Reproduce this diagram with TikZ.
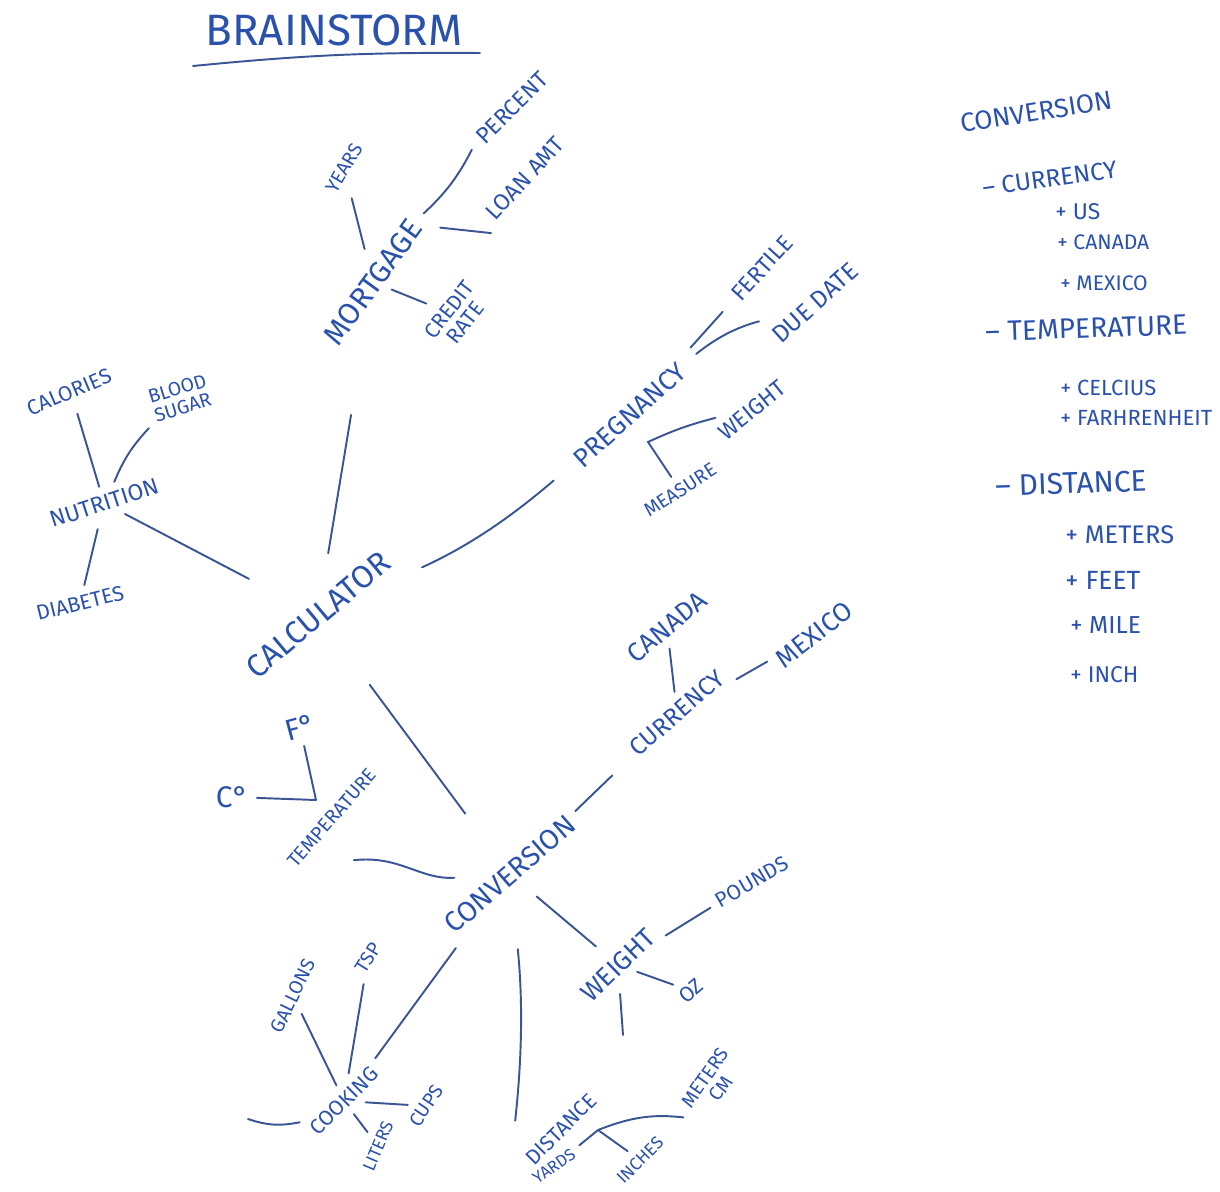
\documentclass[tikz,border=0pt]{standalone}
\usepackage{fontspec}
\setmainfont{Fira Sans}
\usepackage{tikz}
\usetikzlibrary{calc}
\definecolor{inkblue}{HTML}{2A52AC}
\definecolor{penline}{HTML}{3A5594}

\tikzset{
  hand/.style={text=inkblue, inner sep=1pt, outer sep=4pt, align=center,
    font=\fontsize{#1pt}{#1pt}\selectfont},
  ink/.style={draw=penline, line width=1.1pt, line cap=round},
  list/.style={text=inkblue, anchor=west, inner sep=0pt,
    font=\fontsize{#1pt}{#1pt}\selectfont}
}

\begin{document}
\begin{tikzpicture}[x=0.02cm, y=-0.02cm]
   \fill[white] (0,0) rectangle (1220,1191);
   \useasboundingbox (0,0) rectangle (1220,1191);

   % Title
   \node[hand=25] (title) at (334,30) {BRAINSTORM};
   \draw[ink] (193,66) to[bend left=3] (480,53);

   % Mortgage branch
   \node[hand=17, rotate=54] (mort) at (373,282) {MORTGAGE};
   \node[hand=11, rotate=60] (years) at (344,168) {YEARS};
   \node[hand=13, rotate=45] (perc) at (512,108) {PERCENT};
   \node[hand=13, rotate=47] (loan) at (525,178) {LOAN AMT};
   \node[hand=12, rotate=52] (credit) at (457,316) {CREDIT\\RATE};
   \draw[ink, shorten <=5pt, shorten >=5pt] (years) -- (mort);
   \draw[ink, shorten <=2pt, shorten >=2pt] (mort.east) to[bend right=10] (perc.west);
   \draw[ink, shorten <=2pt, shorten >=3pt] (mort.south east) -- (loan.south west);
   \draw[ink, shorten >=3pt] (mort) -- (credit);

   % Nutrition branch
   \node[hand=13, rotate=18] (nutr) at (104,503) {NUTRITION};
   \node[hand=12, rotate=23] (cal) at (69,392) {CALORIES};
   \node[hand=11, rotate=17] (blood) at (180,398) {BLOOD\\SUGAR};
   \node[hand=12, rotate=14] (diab) at (80,603) {DIABETES};
   \draw[ink, shorten <=4pt] (cal.south) -- (nutr);
   \draw[ink] (blood) to[bend right=10] (nutr);
   \draw[ink, shorten <=4pt] (nutr) -- (diab);

   % Calculator
   \node[hand=18, rotate=40] (calc) at (318,615) {CALCULATOR};
   \draw[ink, shorten <=52pt, shorten >=18pt] (mort) -- (calc);
   \draw[ink, shorten >=32pt] (nutr) -- (calc);

   % Pregnancy branch
   \node[hand=15, rotate=42] (preg) at (630,415) {PREGNANCY};
   \node[hand=13, rotate=48] (fert) at (762,268) {FERTILE};
   \node[hand=14, rotate=42] (due) at (815,303) {DUE DATE};
   \node[hand=13, rotate=39] (pwt) at (752,410) {WEIGHT};
   \node[hand=11, rotate=33] (meas) at (680,490) {MEASURE};
   \coordinate (pfork) at (648,442);
   \draw[ink, shorten <=22pt, shorten >=12pt] (calc) to[bend right=8] (preg);
   \draw[ink, shorten <=6pt, shorten >=6pt] (preg) -- (fert);
   \draw[ink, shorten <=6pt, shorten >=8pt] (preg) to[bend left=12] (due);
   \draw[ink] (meas) -- (pfork) to[bend left=5] (pwt);

   % Conversion
   \node[hand=16, rotate=41] (conv) at (510,874) {CONVERSION};
   \draw[ink, shorten <=38pt, shorten >=32pt] (calc) -- (conv);

   % Currency
   \node[hand=14, rotate=41] (curr) at (677,713) {CURRENCY};
   \node[hand=15, rotate=40] (can) at (667,627) {CANADA};
   \node[hand=15, rotate=38] (mex) at (814,635) {MEXICO};
   \draw[ink, shorten >=13pt] (conv) -- (curr);
   \draw[ink] (can) -- (curr);
   \draw[ink] (curr) -- (mex);

   % Temperature
   \node[hand=11, rotate=49] (temp) at (332,818) {TEMPERATURE};
   \node[hand=17, rotate=15] (fdeg) at (300,727) {F°};
   \node[hand=17] (cdeg) at (232,797) {C°};
   \coordinate (tfork) at (316,800);
   \draw[ink] (fdeg) -- (tfork);
   \draw[ink] (cdeg) -- (tfork);
   \draw[ink, shorten >=14pt] (temp.south) ++(10,32) .. controls (400,855) and (420,880) .. (conv);

   % Weight
   \node[hand=15, rotate=44] (wt) at (618,965) {WEIGHT};
   \node[hand=12, rotate=30] (lbs) at (752,882) {POUNDS};
   \node[hand=12, rotate=40] (oz) at (691,991) {OZ};
   \coordinate (wtend) at (623,1035);
   \draw[ink, shorten <=9pt, shorten >=6pt] (conv) -- (wt);
   \draw[ink] (wt) -- (lbs);
   \draw[ink] (wt) -- (oz);
   \draw[ink, shorten <=3pt] (wt) -- (wtend);

   % Cooking
   \node[hand=12, rotate=45] (cook) at (344,1101) {COOKING};
   \node[hand=11, rotate=64] (gal) at (293,996) {GALLONS};
   \node[hand=11, rotate=58] (tsp) at (368,958) {TSP};
   \node[hand=10, rotate=67] (lit) at (378,1146) {LITERS};
   \node[hand=11, rotate=56] (cups) at (426,1106) {CUPS};
   \coordinate (ckend) at (248,1119);
   \draw[ink, shorten <=4pt] (conv) -- (cook);
   \draw[ink] (gal) -- (cook);
   \draw[ink] (tsp) -- (cook);
   \draw[ink] (cook) to[bend left=15] (ckend);
   \draw[ink] (cook) -- (lit);
   \draw[ink] (cook) -- (cups);

   % Distance
   \node[hand=12, rotate=45] (dist) at (561,1129) {DISTANCE};
   \node[hand=9.5, rotate=35] (yards) at (554,1166) {YARDS};
   \node[hand=10, rotate=45] (inch) at (640,1160) {INCHES};
   \node[hand=11, rotate=55] (meter) at (713,1083) {METERS\\CM};
   \coordinate (dfork) at (598,1130);
   \draw[ink, shorten <=30pt, shorten >=20pt] (conv) to[bend left=6] (dist.north west);
   \draw[ink] (yards) -- (dfork);
   \draw[ink, shorten >=3pt] (dfork) to[bend left=14] (meter.west);
   \draw[ink] (dfork) -- (inch);

   % Conversion list
   \node[list=15, rotate=9] (rconv) at (960,124) {CONVERSION};
   \node[list=14, rotate=8] (rcurr) at (982,188) {– CURRENCY};
   \node[list=13] (rus) at (1055,212) {+ US};
   \node[list=12] (rcan) at (1057,242) {+ CANADA};
   \node[list=12] (rmex) at (1060,283) {+ MEXICO};
   \node[list=16, rotate=2] (rtemp) at (985,332) {– TEMPERATURE};
   \node[list=12.5] (rcel) at (1060,388) {+ CELCIUS};
   \node[list=12.5] (rfah) at (1060,418) {+ FARHRENHEIT};
   \node[list=17, rotate=2] (rdist) at (995,486) {– DISTANCE};
   \node[list=14.5] (rmet) at (1065,535) {+ METERS};
   \node[list=15] (rfeet) at (1065,580) {+ FEET};
   \node[list=14] (rmile) at (1070,625) {+ MILE};
   \node[list=13] (rinch) at (1070,675) {+ INCH};
\end{tikzpicture}
\end{document}
